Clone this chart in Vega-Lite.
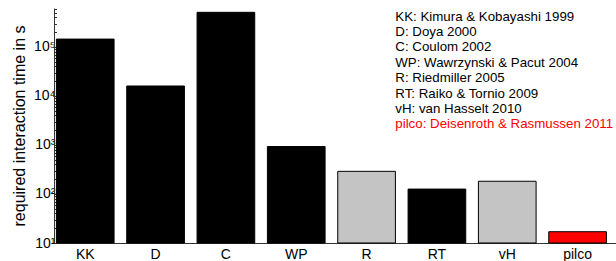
{
  "$schema": "https://vega.github.io/schema/vega-lite/v6.json",
  "width": 562,
  "height": 235,
  "autosize": {"type": "none"},
  "padding": {"left": 54, "top": 8, "right": 0, "bottom": 18},
  "background": "white",
  "config": {
    "view": {"stroke": null},
    "font": "Liberation Sans",
    "axis": {"labelFont": "Liberation Sans", "titleFont": "Liberation Sans", "labelColor": "#000", "titleColor": "#000", "domainColor": "#333", "tickColor": "#333", "grid": false}
  },
  "data": {
    "values": [
      {"m": "KK", "t": 145000, "ref": "KK: Kimura & Kobayashi 1999"},
      {"m": "D", "t": 16000, "ref": "D: Doya 2000"},
      {"m": "C", "t": 510000, "ref": "C: Coulom 2002"},
      {"m": "WP", "t": 930, "ref": "WP: Wawrzynski & Pacut 2004"},
      {"m": "R", "t": 290, "ref": "R: Riedmiller 2005"},
      {"m": "RT", "t": 126, "ref": "RT: Raiko & Tornio 2009"},
      {"m": "vH", "t": 182, "ref": "vH: van Hasselt 2010"},
      {"m": "pilco", "t": 17, "ref": "pilco: Deisenroth & Rasmussen 2011"}
    ]
  },
  "resolve": {"axis": {"y": "independent"}},
  "layer": [
    {
      "mark": {"type": "bar", "stroke": "#000", "strokeWidth": 1},
      "encoding": {
        "x": {
          "field": "m", "type": "nominal", "sort": null,
          "scale": {"paddingInner": 0.18, "paddingOuter": 0.085, "align": 0.2},
          "axis": {"title": null, "labelAngle": 0, "ticks": false, "labelFontSize": 14, "labelPadding": 4, "domainWidth": 1}
        },
        "y": {
          "field": "t", "type": "quantitative", "stack": null,
          "scale": {"type": "log", "domain": [10, 625000], "nice": false, "zero": false},
          "axis": {
            "title": "required interaction time in s", "titleFontSize": 16, "titleFontWeight": "normal", "titlePadding": 6,
            "values": [10, 100, 1000, 10000, 100000],
            "labelExpr": "'10' + ['⁰','¹','²','³','⁴','⁵','⁶'][round(log(datum.value)/LN10)]",
            "labelFontSize": 14, "labelPadding": 3, "tickSize": -4, "labelFlush": false
          }
        },
        "color": {
          "field": "ref", "type": "nominal", "sort": null,
          "scale": {
            "domain": ["KK: Kimura & Kobayashi 1999", "D: Doya 2000", "C: Coulom 2002", "WP: Wawrzynski & Pacut 2004", "R: Riedmiller 2005", "RT: Raiko & Tornio 2009", "vH: van Hasselt 2010", "pilco: Deisenroth & Rasmussen 2011"],
            "range": ["#000000", "#000000", "#000000", "#000000", "#c4c4c4", "#000000", "#c4c4c4", "#ff0000"]
          },
          "legend": {
            "title": null, "orient": "top-right", "offset": 2, "padding": 0,
            "symbolSize": 0, "symbolOpacity": 0, "symbolStrokeWidth": 0, "labelOffset": 0,
            "labelFontSize": 13.3, "labelFont": "Liberation Sans", "labelLimit": 400, "rowPadding": 1.4,
            "labelColor": {"expr": "datum.label === 'pilco: Deisenroth & Rasmussen 2011' ? '#ff0000' : '#000000'"}
          }
        }
      }
    },
    {
      "mark": {"type": "bar", "opacity": 0},
      "encoding": {
        "x": {"field": "m", "type": "nominal", "sort": null},
        "y": {
          "field": "t", "type": "quantitative", "stack": null,
          "axis": {
            "orient": "left", "title": null, "labels": false, "domain": false, "tickSize": -2.5,
            "values": [20, 30, 40, 50, 60, 70, 80, 90, 200, 300, 400, 500, 600, 700, 800, 900, 2000, 3000, 4000, 5000, 6000, 7000, 8000, 9000, 20000, 30000, 40000, 50000, 60000, 70000, 80000, 90000, 200000, 300000, 400000, 500000, 600000]
          }
        }
      }
    }
  ]
}
